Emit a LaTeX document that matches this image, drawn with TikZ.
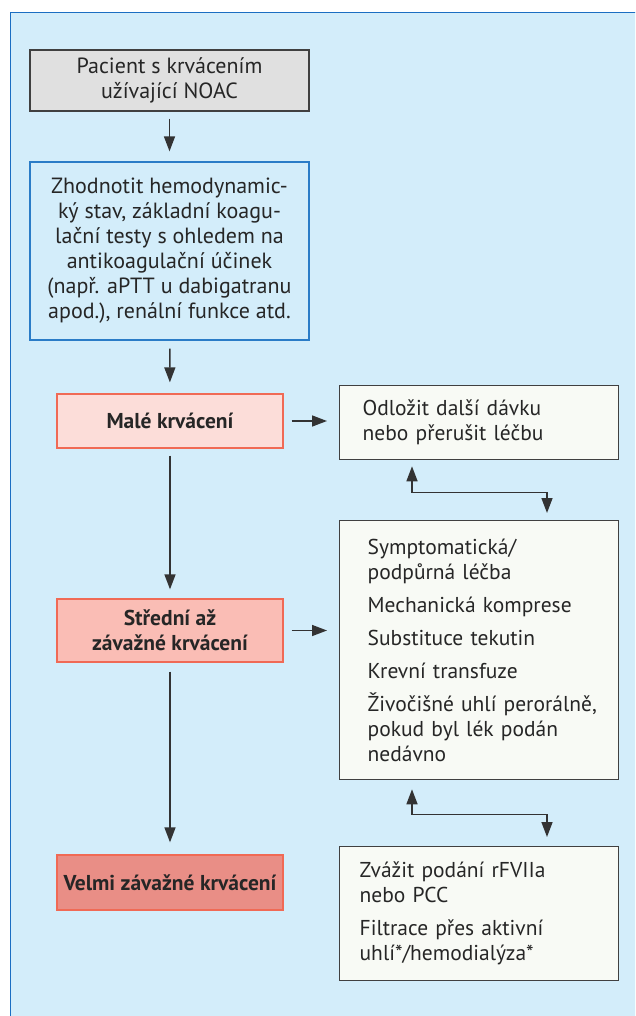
\documentclass[tikz,border=0pt]{standalone}
\usepackage{fontspec}
\setmainfont{PT Sans}
\usetikzlibrary{arrows.meta,calc}
\definecolor{bgblue}{HTML}{D3EDFA}
\definecolor{frameblue}{HTML}{1B6EC2}
\definecolor{boxblue}{HTML}{2A7CC7}
\definecolor{graybox}{HTML}{E0E0E0}
\definecolor{grayline}{HTML}{404040}
\definecolor{redline}{HTML}{F06A55}
\definecolor{redA}{HTML}{FCDDD9}
\definecolor{redB}{HTML}{FABDB5}
\definecolor{redC}{HTML}{E98E86}
\definecolor{whitebox}{HTML}{F8FAF5}
\definecolor{arrowc}{HTML}{333333}
\begin{document}
\begin{tikzpicture}[x=1pt,y=-1pt,
  bigtxt/.style={font=\fontsize{22}{25}\selectfont, text=black!85},
  smalltxt/.style={font=\fontsize{21.5}{25}\selectfont, text=black!85},
  centerbox/.style={bigtxt, draw, line width=1.3pt, align=center, inner sep=0pt, minimum width=279pt},
  sevbox/.style={draw=redline, line width=1.3pt, align=center, inner sep=0pt, minimum width=226pt, text=black!85, font=\fontsize{21.5}{25}\selectfont\bfseries},
  whitebx/.style={smalltxt, draw=grayline, fill=whitebox, line width=1.3pt, align=left, anchor=north west, minimum width=279pt},
  arr/.style={draw=arrowc, line width=1.5pt, -{Triangle[length=15pt,width=11pt]}},
  darr/.style={draw=arrowc, line width=1.5pt, {Triangle[length=15pt,width=11pt]}-{Triangle[length=15pt,width=11pt]}}
]
\useasboundingbox (0,0) rectangle (635,1016);
\clip (0,0) rectangle (635,1016);
\fill[white] (0,0) rectangle (635,1016);
\draw[draw=frameblue, line width=1.6pt, fill=bgblue] (10.5,12.5) rectangle (680,1060);

\node[centerbox, draw=grayline, fill=graybox, minimum height=61pt] (b1) at (169.5,80.5)
  {Pacient s krvácením\\užívající NOAC};
\node[centerbox, draw=boxblue, fill=bgblue, minimum height=178pt] (b2) at (169.5,251)
  {Zhodnotit hemodynamic-\\ký stav, základní koagu-\\lační testy s ohledem na\\antikoagulační účinek\\(např. aPTT u dabigatranu\\apod.), renální funkce atd.};
\node[sevbox, fill=redA, minimum height=54pt] (male) at (170,421) {Malé krvácení};
\node[sevbox, fill=redB, minimum height=63pt] (stred) at (170,630.5) {Střední až\\závažné krvácení};
\node[sevbox, fill=redC, minimum height=55pt] (velmi) at (170,882.5) {Velmi závažné krvácení};

\node[whitebx, inner xsep=23pt, text width=233pt, minimum height=74pt] (odl) at (339,385)
  {\mbox{Odložit další dávku}\\\mbox{nebo přerušit léčbu}};
\node[whitebx, inner xsep=28pt, text width=223pt, minimum height=259pt] (b3) at (339,520)
  {\mbox{Symptomatická/}\\\mbox{podpůrná léčba}\\[8pt]\mbox{Mechanická komprese}\\[8pt]\mbox{Substituce tekutin}\\[8pt]\mbox{Krevní transfuze}\\[8pt]\mbox{Živočišné uhlí perorálně,}\\\mbox{pokud byl lék podán}\\\mbox{nedávno}};
\node[whitebx, inner xsep=20pt, text width=239pt, minimum height=134pt] (b4) at (339,846)
  {\mbox{Zvážit podání rFVIIa}\\\mbox{nebo PCC}\\[8pt]\mbox{Filtrace přes aktivní}\\\mbox{uhlí*/hemodialýza*}};

\draw[arr, shorten <=7pt, shorten >=10pt] (b1) -- (b2);
\draw[arr, shorten <=8pt, shorten >=11pt] (b2) -- (male);
\draw[arr, shorten <=7pt, shorten >=9pt] (male) -- (stred);
\draw[arr, shorten <=9pt, shorten >=12pt] (stred) -- (velmi);
\draw[arr, shorten <=8pt, shorten >=12pt] (male.east) -- (male.east -| odl.west);
\draw[arr, shorten <=8pt, shorten >=12pt] (stred.east) -- (stred.east -| b3.west);

\draw[darr, shorten <=6pt, shorten >=7pt] ([xshift=73pt]odl.south west) -- ++(0,32) -| ([xshift=208pt]b3.north west);
\draw[darr, shorten <=9pt, shorten >=9pt] ([xshift=73pt]b3.south west) -- ++(0,34) -| ([xshift=208pt]b4.north west);
\end{tikzpicture}
\end{document}
